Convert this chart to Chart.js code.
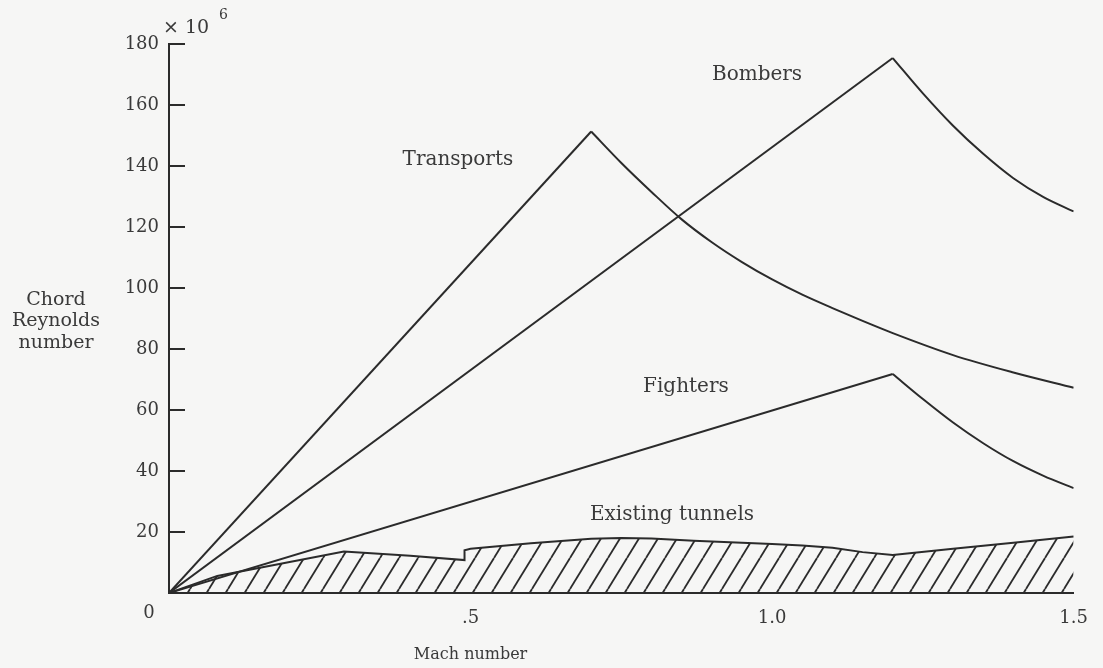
<!DOCTYPE html>
<html>
<head>
<meta charset="utf-8">
<script src="https://cdn.jsdelivr.net/npm/chart.js@4.4.1/dist/chart.umd.min.js"></script>
<style>
  html, body { margin: 0; padding: 0; background: #f6f6f5; }
  #wrap { width: 1103px; height: 668px; }
</style>
</head>
<body>
<div id="wrap"><canvas id="reynolds" width="1103" height="668"></canvas></div>
<script>
// values (Reynolds number in millions vs Mach)
const transportsMach = [0, 0.7, 0.75, 0.8, 0.85, 0.9, 0.95, 1.0, 1.05, 1.1, 1.15, 1.2, 1.3, 1.4, 1.5];
const transportsRe   = [0, 151.3, 141, 131.5, 122.5, 115, 108.5, 102.8, 97.8, 93.4, 89.2, 85.2, 78, 72.3, 67.3];

const bombersMach = [0, 1.2, 1.25, 1.3, 1.35, 1.4, 1.45, 1.5];
const bombersRe   = [0, 175.4, 163.8, 153.2, 144, 136, 129.8, 125.1];

const fightersMach = [0, 1.2, 1.25, 1.3, 1.35, 1.4, 1.45, 1.5];
const fightersRe   = [0, 71.8, 63.6, 55.9, 49.1, 43.2, 38.4, 34.4];

const tunnelsMach = [0, 0.08, 0.29, 0.4, 0.49, 0.49, 0.5, 0.6, 0.7, 0.75, 0.8, 0.87, 0.95, 1.0, 1.05, 1.1, 1.15, 1.2, 1.3, 1.4, 1.5];
const tunnelsRe   = [0, 5.6, 13.6, 12.2, 10.8, 14, 14.5, 16.3, 17.8, 18, 17.9, 17.1, 16.5, 16.1, 15.6, 14.8, 13.4, 12.5, 14.5, 16.5, 18.5];

const xTickValues = [0, 0.5, 1.0, 1.5];
const xTickLabels = ['0', '.5', '1.0', '1.5'];
const yTickValues = [0, 20, 40, 60, 80, 100, 120, 140, 160, 180];

// curve captions, placed in data units
const captions = [
  { text: 'Transports',       x: 0.479, y: 142 },
  { text: 'Bombers',          x: 0.975, y: 170 },
  { text: 'Fighters',         x: 0.857, y: 67.7 },
  { text: 'Existing tunnels', x: 0.834, y: 25.7 }
];

const INK = '#2b2b2b';
const TEXT = '#3a3a3a';
const SERIF = '"DejaVu Serif", "Liberation Serif", serif';

function pairs(xs, ys) {
  return xs.map((x, i) => ({ x: x, y: ys[i] }));
}

// straight climb up to the peak, then the curved fall-off
function splitAtPeak(xs, ys) {
  const k = ys.indexOf(Math.max(...ys));
  return [
    pairs(xs.slice(0, k + 1), ys.slice(0, k + 1)),
    pairs(xs.slice(k), ys.slice(k))
  ];
}

function hatchPattern(ctx) {
  const w = 19, h = 31;
  const c = document.createElement('canvas');
  c.width = w;
  c.height = h;
  const g = c.getContext('2d');
  g.strokeStyle = INK;
  g.lineWidth = 1.8;
  for (const dx of [-w, 0, w]) {
    g.beginPath();
    g.moveTo(dx, h);
    g.lineTo(dx + w, 0);
    g.stroke();
  }
  return ctx.createPattern(c, 'repeat');
}

const decorations = {
  id: 'decorations',
  afterDraw(chart) {
    const ctx = chart.ctx;
    const xs = chart.scales.x;
    const ys = chart.scales.y;
    const left = xs.left;
    ctx.save();

    // inward tick marks on the y axis
    ctx.strokeStyle = INK;
    ctx.lineWidth = 2;
    yTickValues.forEach(v => {
      if (v === 0) return;
      const py = Math.round(ys.getPixelForValue(v));
      ctx.beginPath();
      ctx.moveTo(left, py);
      ctx.lineTo(left + 16, py);
      ctx.stroke();
    });

    ctx.fillStyle = TEXT;
    ctx.textBaseline = 'middle';

    // multiplier at top of y axis
    ctx.textAlign = 'left';
    ctx.font = '19px ' + SERIF;
    ctx.fillText('\u00d7', left - 6, ys.top - 16);
    ctx.fillText('10', left + 16, ys.top - 16);
    ctx.font = '14px ' + SERIF;
    ctx.fillText('6', left + 50, ys.top - 29);

    // shared origin label
    ctx.font = '18px ' + SERIF;
    ctx.textAlign = 'center';
    ctx.fillText('0', left - 20, ys.bottom + 20);

    // axis titles
    ctx.font = '16px ' + SERIF;
    ctx.fillText('Mach number', xs.getPixelForValue(0.5), 655);
    ctx.font = '19px ' + SERIF;
    ['Chord', 'Reynolds', 'number'].forEach((t, i) => {
      ctx.fillText(t, 56, 300 + i * 21.5);
    });

    // curve captions
    ctx.font = '20px ' + SERIF;
    captions.forEach(c => {
      ctx.fillText(c.text, xs.getPixelForValue(c.x), ys.getPixelForValue(c.y));
    });

    ctx.restore();
  }
};

const canvas = document.getElementById('reynolds');
const ctx = canvas.getContext('2d');

function curve(label, points, smooth) {
  return {
    label: label,
    data: points,
    borderColor: INK,
    borderWidth: 2,
    pointRadius: 0,
    tension: 0,
    cubicInterpolationMode: smooth ? 'monotone' : 'default',
    fill: false
  };
}

const [transportsUp, transportsDown] = splitAtPeak(transportsMach, transportsRe);
const [bombersUp, bombersDown] = splitAtPeak(bombersMach, bombersRe);
const [fightersUp, fightersDown] = splitAtPeak(fightersMach, fightersRe);

new Chart(ctx, {
  type: 'line',
  data: {
    datasets: [
      curve('Transports', transportsUp, false),
      curve('Transports', transportsDown, true),
      curve('Bombers', bombersUp, false),
      curve('Bombers', bombersDown, true),
      curve('Fighters', fightersUp, false),
      curve('Fighters', fightersDown, true),
      {
        label: 'Existing tunnels',
        data: pairs(tunnelsMach, tunnelsRe),
        borderColor: INK,
        borderWidth: 2,
        pointRadius: 0,
        tension: 0,
        fill: 'origin',
        backgroundColor: hatchPattern(ctx)
      }
    ]
  },
  options: {
    responsive: false,
    animation: false,
    layout: { padding: { left: 0, right: 19, top: 44, bottom: 0 } },
    plugins: {
      legend: { display: false },
      tooltip: { enabled: false }
    },
    scales: {
      x: {
        type: 'linear',
        min: 0,
        max: 1.5,
        afterBuildTicks: s => { s.ticks = xTickValues.map(v => ({ value: v })); },
        afterFit: s => { s.height = 75; },
        grid: { display: false, drawTicks: false },
        border: { display: true, color: INK, width: 2 },
        ticks: {
          padding: 15,
          color: TEXT,
          font: { family: SERIF, size: 18 },
          callback: v => (v === 0 ? '' : xTickLabels[xTickValues.indexOf(v)])
        }
      },
      y: {
        min: 0,
        max: 180,
        afterBuildTicks: s => { s.ticks = yTickValues.map(v => ({ value: v })); },
        afterFit: s => { s.width = 169; },
        grid: { display: false, drawTicks: false },
        border: { display: true, color: INK, width: 2 },
        ticks: {
          padding: 10,
          color: TEXT,
          font: { family: SERIF, size: 18 },
          callback: v => (v === 0 ? '' : v)
        }
      }
    }
  },
  plugins: [decorations]
});
</script>
</body>
</html>
